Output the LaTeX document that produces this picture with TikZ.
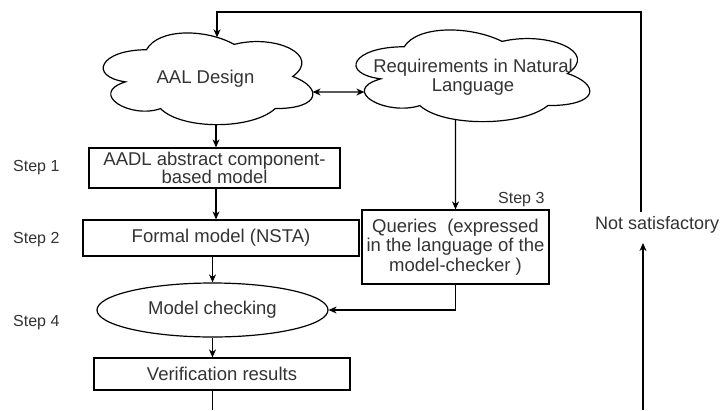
\documentclass[tikz,border=0pt]{standalone}
\usepackage{fontspec}
\setmainfont{Liberation Sans}
\usetikzlibrary{arrows.meta,shapes.geometric,intersections,calc}
\definecolor{txt}{HTML}{333333}
\tikzset{
  conn/.style={line width=1.2pt, draw=black},
  arr/.style={conn, -{Stealth[length=8pt,width=7pt,inset=2.5pt]}},
  darr/.style={conn, {Stealth[length=8pt,width=7pt,inset=2.5pt]}-{Stealth[length=8pt,width=7pt,inset=2.5pt]}},
  bigtxt/.style={font=\fontsize{18.5}{19.5}\selectfont, text=txt},
  smalltxt/.style={font=\fontsize{16}{18}\selectfont, text=txt, anchor=west, inner sep=0pt},
  box/.style={conn, rectangle, inner sep=0pt, align=center, bigtxt},
  oval/.style={conn, ellipse, inner sep=0pt, bigtxt},
  cloudtext/.style={inner sep=0pt, align=center, bigtxt},
}
\newcommand\drawiocloud[5]{%
  \begin{scope}[shift={(#2,#3)}, x=#4pt, y=-#5pt]
    \draw[conn, name path global=#1] (0.25,0.25)
      .. controls (0.05,0.25) and (0,0.5) .. (0.16,0.55)
      .. controls (0,0.66) and (0.18,0.9) .. (0.31,0.8)
      .. controls (0.4,1) and (0.7,1) .. (0.8,0.8)
      .. controls (1,0.8) and (1,0.6) .. (0.875,0.5)
      .. controls (1,0.3) and (0.8,0.1) .. (0.625,0.2)
      .. controls (0.5,0.05) and (0.3,0.05) .. (0.25,0.25) -- cycle;
  \end{scope}}
\begin{document}
\begin{tikzpicture}[x=1pt,y=-1pt]
  \useasboundingbox[fill=white] (0,0) rectangle (722,410);

  % clouds
  \drawiocloud{cloudA}{88}{23}{234}{107}
  \drawiocloud{cloudB}{339}{20}{261}{107}
  \node[cloudtext] (AAL) at (205.5,79) {AAL Design};
  \node[cloudtext] (REQ) at (473,77) {Requirements in Natural\\Language};

  % boxes
  \node[box, minimum width=251pt, minimum height=40pt, font=\fontsize{18.5}{17.5}\selectfont] (AADL) at (214.5,168) {AADL abstract component-\\based model};
  \node[box, minimum width=276pt, minimum height=36pt] (FM) at (221,238) {Formal model (NSTA)};
  \node[oval, minimum width=231pt, minimum height=54pt] (MC) at (212.5,310) {Model checking};
  \node[box, minimum width=256pt, minimum height=32pt] (VR) at (222,374) {Verification results};
  \node[box, minimum width=187pt, minimum height=74pt] (Q) at (455.5,247) {Queries\ \ (expressed\\in the language of the\\model-checker )};

  % labels
  \node[smalltxt] (S1) at (13,168) {Step 1};
  \node[smalltxt] (S2) at (13,240) {Step 2};
  \node[smalltxt] (S3) at (498,200) {Step 3};
  \node[smalltxt] (S4) at (13,323) {Step 4};
  \node[bigtxt, font=\fontsize{18}{19.5}\selectfont, anchor=west, inner sep=0pt] (NS) at (595,225) {Not satisfactory};

  % points on the clouds
  \path[name path=vA] (217,0) -- (217,60);
  \path[name intersections={of=cloudA and vA, by=atop}];
  \path[name path=vB] (216,100) -- (216,145);
  \path[name intersections={of=cloudA and vB, by=abot}];
  \path[name path=hA] (290,92) -- (340,92);
  \path[name intersections={of=cloudA and hA, by=aright}];
  \path[name path=hB] (340,92) -- (400,92);
  \path[name intersections={of=cloudB and hB, by=bleft}];
  \path[name path=vC] (455.5,100) -- (455.5,145);
  \path[name intersections={of=cloudB and vC, by=bbot}];

  \coordinate (fb) at (641,212);
  \coordinate (nsfoot) at (643,410);
  \coordinate (vend) at (212.5,410);

  % connectors
  \draw[arr] (fb) -- ++(0,-200) -| (atop);
  \draw[darr] (aright) -- (bleft);
  \draw[arr] (abot) -- (abot |- AADL.north);
  \draw[arr] (AADL.south -| abot) -- (FM.north -| abot);
  \draw[arr] (FM.south -| MC) -- (MC.north);
  \draw[arr] (MC.south) -- (VR.north -| MC);
  \draw[conn] (VR.south -| MC) -- (vend);
  \draw[arr] (bbot) -- (Q.north);
  \draw[arr] (Q.south) |- (MC.east);
  \draw[arr] (nsfoot) -- ++(0,-167);
\end{tikzpicture}
\end{document}
